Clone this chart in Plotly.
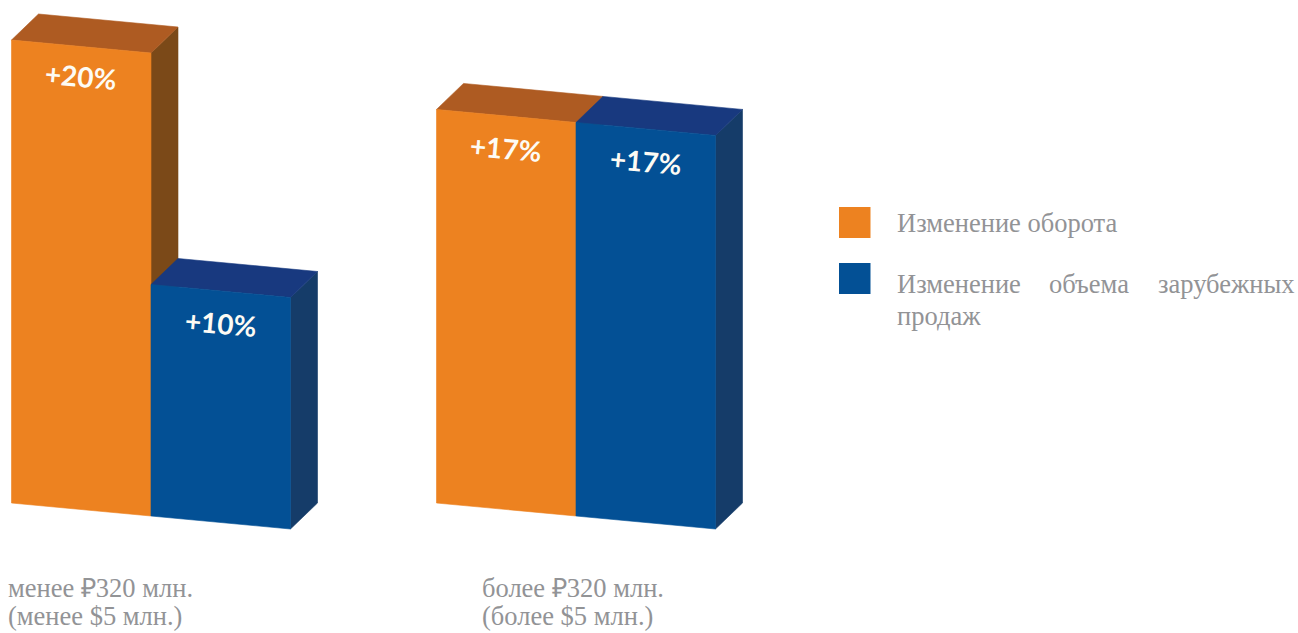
import plotly.graph_objects as go

# Chart data
groups = ["менее ₽320 млн.", "более ₽320 млн."]
group_notes = ["(менее $5 млн.)", "(более $5 млн.)"]
turnover_change = [20, 17]
foreign_sales_change = [10, 17]
series_names = ["Изменение оборота", "Изменение объема зарубежных", "продаж"]

W, H = 1298, 633
BAR_PX, UNIT_PX = 139.5, 23.15       # pixels per bar width, pixels per percentage point
ORIGIN_X, ORIGIN_Y = 151.0, 516.0    # front corner shared by the first pair, at 0 %
GROUP_STEP = (576 - 151) / BAR_PX    # distance between pairs, in bar widths
SKEW = 13 / UNIT_PX                  # fall of the floor line over one bar, in points
DEPTH_X, DEPTH_Y = 27 / BAR_PX, 26 / UNIT_PX  # offset of the back edges

ORANGE = dict(front="#ED8220", top="#AE5B22", side="#7B4918")
BLUE = dict(front="#035095", top="#18397F", side="#153C69")

fig = go.Figure()


def face(points, colour):
    xs, ys = zip(*points)
    fig.add_trace(go.Scatter(
        x=list(xs) + [xs[0]], y=list(ys) + [ys[0]], mode="lines", fill="toself",
        fillcolor=colour, line=dict(width=0.6, color=colour),
        hoverinfo="skip", showlegend=False,
    ))


def box(left, floor_l, value, colours):
    """Draw a sheared box with its front-left foot at (left, floor_l); return its top centre."""
    right = left + 1
    floor_r = floor_l - SKEW
    fl, fr = (left, floor_l), (right, floor_r)
    tl, tr = (left, floor_l + value), (right, floor_r + value)
    bl = (left + DEPTH_X, floor_l + value + DEPTH_Y)
    br = (right + DEPTH_X, floor_r + value + DEPTH_Y)
    back_floor = (right + DEPTH_X, floor_r + DEPTH_Y)
    face([fr, tr, br, back_floor], colours["side"])
    face([tl, tr, br, bl], colours["top"])
    face([fl, fr, tr, tl], colours["front"])
    return (left + 0.5, (floor_l + floor_r) / 2 + value)


annotations = []


def value_label(pos, value, drop=32):
    annotations.append(dict(
        x=pos[0], y=pos[1], xref="x", yref="y", yshift=-drop, showarrow=False,
        text=f"<b>+{value}%</b>", textangle=5,
        font=dict(family="Lato", size=28, color="#FDFBF4"),
    ))


for i, (a, b) in enumerate(zip(turnover_change, foreign_sales_change)):
    centre = i * GROUP_STEP
    value_label(box(centre - 1, SKEW, a, ORANGE), a, drop=29 if i == 0 else 32)
    value_label(box(centre, 0, b, BLUE), b)


def page_text(px, py, text, size=26.5, colour="#929396"):
    annotations.append(dict(
        x=(px - 1) / W, y=1 - py / H, xref="paper", yref="paper", xanchor="left",
        yanchor="middle", showarrow=False, text=text, borderpad=0,
        font=dict(family="Liberation Serif", size=size, color=colour),
    ))


for i, (line1, line2) in enumerate(zip(groups, group_notes)):
    x0 = [8, 482][i]
    page_text(x0, 588, line1)
    page_text(x0, 615.5, line2)

page_text(897, 223, series_names[0])
words = series_names[1].split()
for word, px in zip(words, [897, 1049, 1158]):
    page_text(px, 284, word)
page_text(897, 316, series_names[2])

shapes = [
    dict(type="rect", xref="paper", yref="paper", x0=839 / W, x1=870.5 / W,
         y0=1 - 238 / H, y1=1 - 207 / H, fillcolor=ORANGE["front"], line=dict(width=0)),
    dict(type="rect", xref="paper", yref="paper", x0=839 / W, x1=870.5 / W,
         y0=1 - 294 / H, y1=1 - 263 / H, fillcolor=BLUE["front"], line=dict(width=0)),
]

fig.update_layout(
    width=W, height=H, margin=dict(l=0, r=0, t=0, b=0),
    paper_bgcolor="white", plot_bgcolor="white", showlegend=False,
    xaxis=dict(range=[(0 - ORIGIN_X) / BAR_PX, (W - ORIGIN_X) / BAR_PX], visible=False, fixedrange=True),
    yaxis=dict(range=[(ORIGIN_Y - H) / UNIT_PX, ORIGIN_Y / UNIT_PX], visible=False, fixedrange=True),
    annotations=annotations, shapes=shapes,
)

fig.write_html("out.html")
